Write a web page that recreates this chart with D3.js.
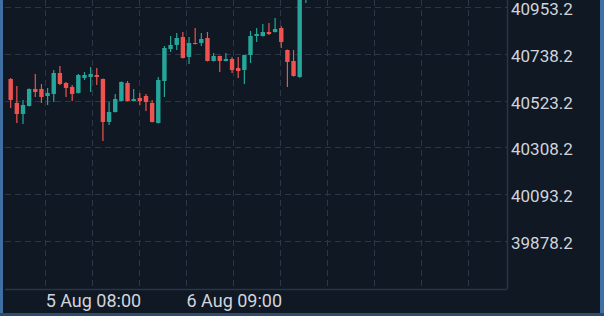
<!DOCTYPE html>
<html>
<head>
<meta charset="utf-8">
<script src="https://cdn.jsdelivr.net/npm/d3@7"></script>
<style>
  html, body { margin: 0; padding: 0; background: #0f1823; overflow: hidden; }
  svg { display: block; }
</style>
</head>
<body>
<div id="chart"></div>
<script>
// Candles, oldest first
const opens = [40622.0, 40512.1, 40461.7, 40498.3, 40576.2, 40576.2, 40544.1, 40553.3, 40649.5, 40603.7,
  40585.4, 40557.9, 40626.6, 40631.2, 40640.3, 40622.0, 40425.0, 40470.8, 40521.2, 40603.7,
  40521.2, 40535.0, 40544.1, 40512.1, 40420.4, 40612.8, 40759.4, 40777.8, 40814.4, 40722.8,
  40786.9, 40786.9, 40809.8, 40704.5, 40727.4, 40704.5, 40713.6, 40672.4, 40663.2, 40731.9,
  40819.0, 40819.0, 40837.3, 40837.3, 40855.6, 40754.8, 40704.5, 40631.2, 41010.0];
const highs = [40626.0, 40589.9, 40525.8, 40578.0, 40644.9, 40599.1, 40580.8, 40663.2, 40681.6, 40608.3,
  40594.5, 40644.9, 40654.1, 40677.0, 40672.4, 40624.0, 40516.6, 40553.3, 40610.0, 40612.8,
  40576.2, 40557.9, 40553.3, 40525.8, 40631.2, 40773.2, 40819.0, 40832.7, 40837.3, 40814.4,
  40855.6, 40832.7, 40837.3, 40741.1, 40729.0, 40741.1, 40722.8, 40722.8, 40733.0, 40841.9,
  40855.6, 40874.0, 40878.5, 40901.4, 40864.8, 40757.0, 40754.8, 41120.0, 41100.0];
const lows = [40489.2, 40420.4, 40415.9, 40496.0, 40539.5, 40512.1, 40502.9, 40516.6, 40594.5, 40539.5,
  40521.2, 40555.0, 40617.4, 40562.4, 40594.5, 40338.0, 40411.3, 40468.0, 40519.0, 40519.0,
  40519.0, 40502.9, 40475.4, 40423.0, 40418.0, 40539.5, 40745.7, 40754.8, 40716.0, 40690.7,
  40780.0, 40773.2, 40702.0, 40702.0, 40654.1, 40702.0, 40649.5, 40626.6, 40599.1, 40695.3,
  40791.5, 40817.0, 40823.6, 40835.0, 40764.0, 40585.4, 40633.0, 40628.0, 40970.0];
const closes = [40525.8, 40461.7, 40502.9, 40576.2, 40562.4, 40539.5, 40557.9, 40649.5, 40599.1, 40580.8,
  40553.3, 40640.3, 40640.3, 40644.9, 40631.2, 40425.0, 40470.8, 40530.4, 40608.3, 40521.2,
  40530.4, 40521.2, 40516.6, 40425.0, 40617.4, 40764.0, 40777.8, 40809.8, 40718.2, 40786.9,
  40782.3, 40805.2, 40704.5, 40727.4, 40704.5, 40713.6, 40663.2, 40658.6, 40731.9, 40819.0,
  40828.1, 40837.3, 40828.1, 40851.1, 40791.5, 40699.9, 40635.7, 41090.0, 41060.0];

// Axis ticks
const yTicks = [39878.2, 40093.2, 40308.2, 40523.2, 40738.2, 40953.2];
const xGrid = [5.58, 13.21, 20.85, 28.49, 36.12, 43.76, 51.40, 59.03, 66.67, 74.31]; // in candle-index units
const xLabels = ["5 Aug 08:00", "6 Aug 09:00"];
const xLabelPos = [13.21, 36.12];

const data = opens.map((o, i) => ({ i, o, h: highs[i], l: lows[i], c: closes[i] }));

const W = 604, H = 316;
const plot = { left: 5, right: 507, top: 0, bottom: 289 };
const up = "#26a69a", down = "#ef5350";

const svg = d3.select("#chart").append("svg").attr("width", W).attr("height", H);

svg.append("rect").attr("width", W).attr("height", H).attr("fill", "#0f1823");

// Scales
const x = d3.scaleLinear().domain([0, 47]).range([10.7, 299.7]);
const y = d3.scaleLinear().domain([39878.2, 40953.2]).range([241.3, 6.7]);

svg.append("clipPath").attr("id", "plot-clip")
  .append("rect")
  .attr("x", plot.left).attr("y", plot.top)
  .attr("width", plot.right - plot.left).attr("height", plot.bottom - plot.top);

// Grid lines
const grid = svg.append("g").attr("clip-path", "url(#plot-clip)")
  .attr("stroke", "#2c3746").attr("stroke-width", 1).attr("stroke-dasharray", "6,4");

grid.selectAll(".hgrid").data(yTicks).join("line")
  .attr("x1", plot.left).attr("x2", plot.right)
  .attr("y1", d => Math.round(y(d)) + 0.5).attr("y2", d => Math.round(y(d)) + 0.5);

grid.selectAll(".vgrid").data(xGrid).join("line")
  .attr("x1", d => Math.round(x(d)) + 0.5).attr("x2", d => Math.round(x(d)) + 0.5)
  .attr("y1", plot.top).attr("y2", plot.bottom);

// Candles
const candles = svg.append("g").attr("clip-path", "url(#plot-clip)")
  .selectAll("g").data(data).join("g");

candles.append("line")
  .attr("x1", d => x(d.i)).attr("x2", d => x(d.i))
  .attr("y1", d => y(d.h)).attr("y2", d => y(d.l))
  .attr("stroke", d => d.c >= d.o ? up : down)
  .attr("stroke-width", 1.2);

candles.append("rect")
  .attr("x", d => x(d.i) - 2.2)
  .attr("width", 4.4)
  .attr("y", d => y(Math.max(d.o, d.c)))
  .attr("height", d => Math.max(1, Math.abs(y(d.o) - y(d.c))))
  .attr("fill", d => d.c >= d.o ? up : down);

// Frame
svg.append("line")
  .attr("x1", plot.right + 0.5).attr("x2", plot.right + 0.5)
  .attr("y1", plot.top).attr("y2", plot.bottom)
  .attr("stroke", "#2b3644").attr("stroke-width", 1.5);
svg.append("line")
  .attr("x1", plot.left).attr("x2", plot.right)
  .attr("y1", plot.bottom + 0.5).attr("y2", plot.bottom + 0.5)
  .attr("stroke", "#2b3644").attr("stroke-width", 1.5);

// Price labels
svg.append("g").selectAll("text").data(yTicks).join("text")
  .attr("x", 511)
  .attr("y", d => y(d) + 8)
  .attr("fill", "#d1d4dc")
  .style("font-family", "Roboto, sans-serif")
  .style("font-size", "17px")
  .text(d => d.toFixed(1));

// Time labels
svg.append("g").selectAll("text").data(xLabels).join("text")
  .attr("x", (d, k) => x(xLabelPos[k]) + 1.5)
  .attr("y", 307)
  .attr("text-anchor", "middle")
  .attr("fill", "#d1d4dc")
  .style("font-family", "Roboto, sans-serif")
  .style("font-size", "18px")
  .text(d => d);

// Outer blue edges
svg.append("rect").attr("x", 0).attr("y", 0).attr("width", 3).attr("height", H).attr("fill", "#3f6fa3");
svg.append("rect").attr("x", 600).attr("y", 0).attr("width", 4).attr("height", H).attr("fill", "#3f6fa3");
svg.append("rect").attr("x", 0).attr("y", 313).attr("width", W).attr("height", 3).attr("fill", "#2f4a6a");
</script>
</body>
</html>
